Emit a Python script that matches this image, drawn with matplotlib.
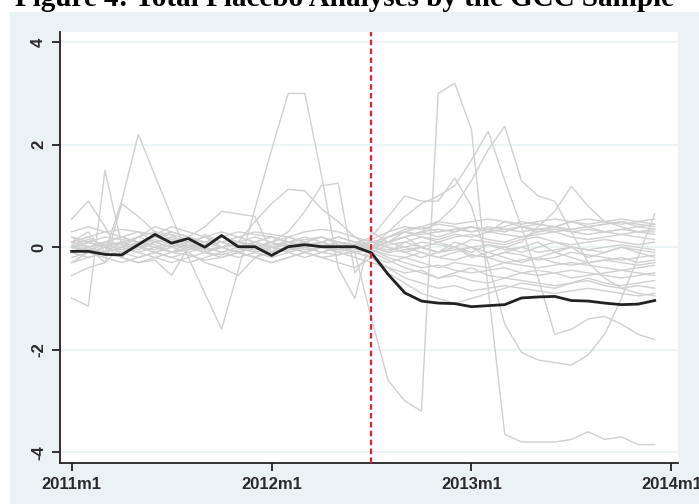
import matplotlib
matplotlib.use("Agg")
import matplotlib.pyplot as plt
from matplotlib.patches import Rectangle
import numpy as np

# ---------------- data ----------------
months = list(range(36))               # 2011m1 .. 2013m12
tick_months = [0, 12, 24, 36]
tick_labels = ["2011m1", "2012m1", "2013m1", "2014m1"]
y_ticks = [-4, -2, 0, 2, 4]
y_tick_labels = ["-4", "-2", "0", "2", "4"]
treat_month = 18                        # 2012m7
title_text = "Figure 4: Total Placebo Analyses by the GCC Sample"

treated = [-0.08, -0.08, -0.14, -0.15, 0.05, 0.25, 0.08, 0.17, 0.0, 0.23, 0.01, 0.01,
           -0.16, 0.01, 0.05, 0.01, 0.01, 0.01, -0.11, -0.53, -0.89, -1.05, -1.09, -1.10,
           -1.16, -1.14, -1.12, -0.99, -0.97, -0.96, -1.04, -1.05, -1.09, -1.12, -1.11, -1.04]

s1 = [-0.99, -1.15, 1.5, 0.05, 0.2, 0.3, 0.15, 0.1, -0.05, 0.0, 0.1, 0.05, -0.1, 0.0, 0.1, 0.2, 0.05, -0.1,
      0.0, 0.2, 0.3, 0.25, 0.3, 0.35, 0.3, 0.4, 0.35, 0.3, 0.35, 0.4, 0.3, 0.35, 0.3, 0.25, 0.3, 0.35]
s2 = [0.1, 0.3, -0.1, 0.9, 2.2, 1.4, 0.6, -0.2, -0.9, -1.6, -0.45, 0.75, 1.9, 3.0, 3.0, 1.4, -0.4, -1.0,
      0.3, 0.1, 0.2, 0.0, -0.1, 0.1, 0.0, -0.2, -0.1, 0.0, 0.1, -0.1, 0.0, -0.2, -0.1, 0.0, -0.1, -0.2]
s3 = [0.0, -0.1, 0.1, 0.2, 0.3, 0.1, 0.0, -0.1, 0.0, 0.2, 0.1, 0.5, 0.85, 1.13, 1.1, 0.75, 0.5, 0.2,
      0.0, 0.1, 0.2, 0.3, 0.2, 0.3, 0.4, 0.3, 0.5, 0.4, 0.3, 0.4, 0.5, 0.4, 0.45, 0.5, 0.4, 0.45]
s4 = [0.1, 0.2, 0.0, -0.1, 0.1, 0.0, -0.1, 0.1, 0.2, 0.0, -0.1, 0.0, 0.1, 0.3, 0.7, 1.2, 1.25, -0.5,
      -0.05, 0.1, 0.0, -0.1, -0.2, -0.1, 0.0, -0.1, -0.2, -0.3, -0.2, -0.1, -0.2, -0.3, -0.25, -0.2, -0.3, -0.25]
s5 = [0.55, 0.9, 0.4, -0.2, 0.1, 0.2, 0.1, 0.0, 0.05, 0.1, 0.0, 0.1, 0.2, 0.1, 0.0, 0.1, 0.2, 0.1,
      0.0, 0.2, 0.3, 0.4, 0.3, 0.35, 0.4, 0.3, 0.35, 0.4, 0.35, 0.3, 0.35, 0.4, 0.3, 0.35, 0.4, 0.35]
s6 = [0.2, 0.0, -0.3, 0.85, 0.6, 0.3, 0.25, 0.0, -0.1, 0.0, 0.1, 0.0, -0.1, 0.0, 0.1, 0.2, 0.1, 0.0,
      0.1, 0.0, -0.1, 0.0, 0.1, 0.0, -0.1, 0.05, 0.0, -0.1, 0.0, 0.1, 0.0, -0.05, 0.0, 0.05, 0.0, -0.05]
s7 = [-0.3, -0.1, 0.0, -0.2, -0.3, -0.25, -0.55, 0.0, 0.25, 0.1, 0.0, -0.1, 0.0, 0.1, 0.2, 0.1, 0.0, -0.1,
      0.0, 0.1, 0.3, 0.2, 0.1, 0.2, 0.25, 0.15, 0.1, 0.2, 0.25, 0.3, 0.2, 0.15, 0.2, 0.25, 0.2, 0.15]
s8 = [-0.55, -0.4, -0.3, 0.0, 0.2, 0.4, 0.3, 0.2, 0.1, 0.0, -0.1, -0.2, -0.3, -0.2, -0.1, 0.0, -0.1, -0.2,
      -0.3, -0.4, -0.5, -0.45, -0.6, -0.5, -0.4, -0.55, -0.6, -0.5, -0.45, -0.5, -0.6, -0.55, -0.5, -0.45, -0.5, -0.55]
s9 = [0.0, 0.1, 0.0, -0.1, 0.0, 0.1, 0.0, 0.2, 0.4, 0.7, 0.65, 0.6, -0.1, 0.2, 0.1, 0.0, -0.1, 0.0,
      0.1, 0.0, -0.1, -0.2, -0.1, 0.0, -0.15, -0.2, -0.1, -0.15, -0.25, -0.2, -0.1, -0.15, -0.2, -0.25, -0.2, -0.15]
s10 = [0.0, -0.1, 0.0, 0.1, 0.0, -0.1, -0.2, -0.1, -0.3, -0.4, -0.55, -0.2, 0.0, -0.1, -0.2, -0.1, 0.0, -0.1,
       -0.2, -0.3, -0.2, -0.3, -0.4, -0.3, -0.35, -0.4, -0.3, -0.35, -0.4, -0.35, -0.3, -0.35, -0.4, -0.45, -0.4, -0.35]
b1 = [0.1, 0.2, 0.3, 0.35, 0.3, 0.25, 0.4, 0.3, 0.2, 0.1, 0.2, 0.3, 0.25, 0.2, 0.3, 0.35, 0.3, 0.2,
      0.1, 0.2, 0.35, 0.4, 0.5, 0.45, 0.5, 0.55, 0.5, 0.45, 0.5, 0.55, 0.5, 0.45, 0.5, 0.55, 0.5, 0.55]
b2 = [0.0, 0.1, 0.2, 0.15, 0.1, 0.2, 0.25, 0.15, 0.1, 0.2, 0.3, 0.25, 0.2, 0.1, 0.15, 0.2, 0.1, 0.05,
      0.0, 0.1, 0.2, 0.3, 0.35, 0.3, 0.4, 0.35, 0.3, 0.4, 0.45, 0.4, 0.35, 0.4, 0.45, 0.5, 0.45, 0.4]
b3 = [-0.1, 0.0, 0.1, 0.05, -0.05, 0.1, 0.15, 0.05, -0.05, 0.0, 0.1, 0.05, 0.0, 0.1, 0.05, 0.0, -0.05, 0.0,
      -0.1, 0.05, 0.1, 0.2, 0.15, 0.25, 0.2, 0.3, 0.25, 0.2, 0.3, 0.35, 0.3, 0.25, 0.3, 0.35, 0.3, 0.25]
b4 = [0.05, -0.05, -0.1, 0.0, 0.1, 0.05, -0.1, -0.05, 0.05, 0.1, 0.0, -0.05, 0.05, 0.1, 0.0, -0.1, 0.0, 0.05,
      0.0, -0.05, 0.0, 0.1, 0.05, 0.0, 0.15, 0.1, 0.05, 0.15, 0.2, 0.1, 0.05, 0.1, 0.15, 0.1, 0.05, 0.1]
b5 = [-0.2, -0.1, 0.0, -0.1, -0.2, -0.1, 0.0, 0.05, -0.1, -0.15, -0.05, 0.0, -0.1, -0.05, 0.0, -0.1, -0.15, -0.05,
      0.0, -0.1, -0.05, 0.0, -0.1, -0.05, 0.0, 0.05, -0.05, 0.0, -0.1, -0.05, 0.0, -0.05, -0.1, 0.0, -0.05, -0.1]
b6 = [0.2, 0.1, 0.0, -0.1, 0.0, 0.1, 0.2, 0.1, 0.0, -0.1, -0.2, -0.1, 0.0, 0.05, -0.05, 0.0, 0.1, 0.0,
      -0.05, -0.15, -0.2, -0.1, -0.2, -0.25, -0.15, -0.2, -0.3, -0.25, -0.2, -0.3, -0.35, -0.3, -0.25, -0.3, -0.35, -0.3]
b7 = [-0.3, -0.2, -0.1, -0.2, -0.3, -0.2, -0.1, -0.15, -0.25, -0.2, -0.1, -0.2, -0.3, -0.2, -0.1, -0.2, -0.15, -0.1,
      -0.05, -0.2, -0.3, -0.4, -0.35, -0.45, -0.5, -0.45, -0.4, -0.5, -0.55, -0.5, -0.45, -0.5, -0.55, -0.6, -0.55, -0.5]
b8 = [0.3, 0.4, 0.3, 0.2, 0.1, 0.2, 0.3, 0.2, 0.1, 0.0, 0.1, 0.2, 0.1, 0.0, -0.1, 0.0, 0.1, 0.05,
      -0.1, -0.25, -0.4, -0.5, -0.6, -0.55, -0.65, -0.7, -0.6, -0.65, -0.7, -0.75, -0.7, -0.65, -0.75, -0.8, -0.75, -0.8]
b9 = [0.0, -0.1, -0.2, -0.3, -0.2, -0.1, -0.2, -0.3, -0.2, -0.1, 0.0, -0.1, -0.2, -0.1, 0.0, 0.1, 0.0, -0.1,
      -0.2, -0.4, -0.6, -0.7, -0.8, -0.75, -0.85, -0.8, -0.75, -0.8, -0.85, -0.9, -0.85, -0.8, -0.85, -0.9, -0.95, -0.9]
b10 = [0.1, 0.0, -0.1, 0.1, 0.2, 0.1, 0.0, 0.1, 0.2, 0.3, 0.2, 0.1, 0.2, 0.1, 0.0, 0.1, 0.2, 0.1,
       0.15, 0.3, 0.4, 0.35, 0.45, 0.4, 0.3, 0.35, 0.4, 0.5, 0.45, 0.4, 0.5, 0.55, 0.5, 0.45, 0.5, 0.45]
b11 = [-0.1, -0.2, -0.1, 0.0, -0.1, -0.2, -0.3, -0.2, -0.1, 0.0, -0.1, -0.2, -0.1, 0.0, -0.1, -0.2, -0.3, -0.4,
       -0.2, -0.5, -0.7, -0.9, -1.0, -1.1, -1.0, -0.9, -0.8, -0.7, -0.75, -0.8, -0.7, -0.6, -0.7, -0.75, -0.7, -0.65]
p1 = [0.0, 0.1, 0.0, -0.1, 0.0, 0.1, 0.2, 0.1, 0.0, -0.1, 0.0, 0.1, 0.0, -0.1, 0.0, 0.05, 0.0, -0.1,
      -1.4, -2.6, -3.0, -3.2, 3.0, 3.2, 2.3, -0.8, -3.65, -3.8, -3.8, -3.8, -3.75, -3.6, -3.75, -3.7, -3.85, -3.85]
p2 = [0.1, 0.0, 0.1, 0.2, 0.1, 0.0, -0.1, 0.0, 0.1, 0.2, 0.1, 0.0, 0.1, 0.2, 0.1, 0.0, 0.1, 0.05,
      0.2, 0.6, 1.0, 0.9, 0.9, 1.35, 0.8, -0.3, -1.5, -2.05, -2.2, -2.25, -2.3, -2.1, -1.7, -1.0, -0.2, 0.65]
p3 = [-0.1, 0.0, 0.1, 0.0, -0.1, 0.0, 0.1, 0.0, -0.1, -0.2, -0.1, 0.0, 0.1, 0.0, -0.1, 0.0, 0.05, 0.0,
      0.0, 0.3, 0.6, 0.85, 1.0, 1.2, 1.7, 2.26, 1.3, 0.4, -0.6, -1.7, -1.6, -1.4, -1.35, -1.5, -1.7, -1.8]
p4 = [0.05, 0.15, 0.05, -0.05, 0.05, 0.15, 0.05, -0.05, 0.05, 0.1, 0.0, 0.1, 0.0, -0.05, 0.05, 0.1, 0.0, 0.05,
      0.1, 0.1, 0.2, 0.3, 0.5, 0.8, 1.3, 1.9, 2.36, 1.3, 1.0, 0.9, 0.3, -0.3, -0.6, -0.8, -0.9, -0.95]
p5 = [0.0, -0.05, 0.05, 0.1, 0.0, -0.05, 0.05, 0.0, -0.1, 0.0, 0.05, -0.05, 0.0, 0.05, 0.1, 0.0, -0.05, 0.0,
      0.0, -0.1, 0.1, 0.0, -0.1, 0.0, -0.2, -0.1, 0.0, 0.1, 0.4, 0.7, 1.19, 0.8, 0.5, 0.4, 0.3, 0.3]

donors = [s1, s2, s3, s4, s5, s6, s7, s8, s9, s10,
          b1, b2, b3, b4, b5, b6, b7, b8, b9, b10, b11,
          p1, p2, p3, p4, p5]

# ---------------- figure ----------------
W, H = 699, 504
fig = plt.figure(figsize=(W / 100, H / 100), dpi=100, facecolor="white")
bg = "#EAF2F3"
fig.patches.append(Rectangle((10 / W, 0), 1 - 10 / W, 1 - 12 / H, transform=fig.transFigure,
                             facecolor=bg, edgecolor="none", zorder=-5))

fig.text(15 / W, 1 - 6 / H, title_text, family="Liberation Serif", weight="bold",
         fontsize=21, va="baseline", ha="left", color="black")

ax_l, ax_r, ax_t, ax_b = 60, 678, 32, 463
ax = fig.add_axes([ax_l / W, 1 - ax_b / H, (ax_r - ax_l) / W, (ax_b - ax_t) / H])
ax.set_zorder(1)
ax.set_facecolor("white")

for s in donors:
    ax.plot(months, s, color="#D0D0D0", lw=1.0, zorder=2)
ax.plot(months, treated, color="#222222", lw=2.0, zorder=4)
ax.axvline(treat_month, color="#E8202A", lw=1.6, ls=(0, (2.5, 1.5)), zorder=5)

ax.set_xlim(-0.7, 36.4)
ax.set_ylim(-4.21, 4.2)
ax.set_yticks(y_ticks)
ax.set_yticklabels(y_tick_labels, rotation=90, va="center")
ax.set_xticks(tick_months)
ax.set_xticklabels(tick_labels)
ax.grid(axis="y", color=bg, lw=1.2, zorder=1)
ax.set_axisbelow(True)

for side in ["top", "right"]:
    ax.spines[side].set_visible(False)
for side in ["left", "bottom"]:
    ax.spines[side].set_color("#222222")
    ax.spines[side].set_linewidth(1.3)
ax.tick_params(axis="both", direction="out", length=6, width=1.3, color="#222222",
               labelsize=12, labelcolor="#2a2a2a", pad=4)
for lab in ax.get_xticklabels() + ax.get_yticklabels():
    lab.set_family("Liberation Sans")
    lab.set_weight("bold")

fig.savefig("out.png", dpi=100, facecolor="white")
